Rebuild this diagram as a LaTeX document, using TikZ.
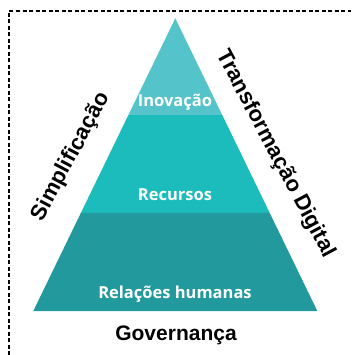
\documentclass[tikz,border=0pt]{standalone}
\usepackage{fontspec}
\setmainfont{Liberation Sans}
\newfontfamily\bandfont{Open Sans}
\usetikzlibrary{calc}

\definecolor{topband}{HTML}{55C4CA}
\definecolor{midband}{HTML}{1BBCBB}
\definecolor{lowband}{HTML}{22999C}

\begin{document}
\begin{tikzpicture}[x=1pt,y=-1pt,
    bandtext/.style={text=white,font=\bandfont\bfseries\fontsize{16.5}{17}\selectfont},
    sidetext/.style={text=black,font=\bfseries\fontsize{22}{22}\selectfont}]
        \useasboundingbox (0,0) rectangle (351,355);

        %%%% Frame ======================================
        \draw[dashed,line width=1.3pt,dash pattern=on 4pt off 2.5pt] (9,355) -- (9,11) -- (351,11);

        %%%% Pyramid ====================================
        % Corners
        \coordinate (apex) at (175.3,18.3);
        \coordinate (bl) at (33.3,311);
        \coordinate (br) at (317.3,311);

        % Band limits
        \coordinate (l1) at ($(apex)!0.3304!(bl)$);
        \coordinate (r1) at ($(apex)!0.3304!(br)$);
        \coordinate (l2) at ($(apex)!0.665!(bl)$);
        \coordinate (r2) at ($(apex)!0.665!(br)$);

        % Bands
        \fill[topband] (apex) -- (r1) -- (l1) -- cycle;
        \fill[midband] (l1) -- (r1) -- (r2) -- (l2) -- cycle;
        \fill[lowband] (l2) -- (r2) -- (br) -- (bl) -- cycle;

        % Labels
        \node[bandtext] (inov) at (175,102) {Inovação};
        \node[bandtext] (recu) at (175,195) {Recursos};
        \node[bandtext] (rela) at (175,294) {Relações humanas};

        %%%% Sides ======================================
        \node[sidetext,rotate=62] (simp) at (71,157) {Simplificação};
        \node[sidetext,rotate=-62] (trans) at (275.5,154) {Transformação Digital};
        \node[sidetext,font=\bfseries\fontsize{21}{21}\selectfont] (gov) at (176,335) {Governança};
    \end{tikzpicture}
\end{document}
